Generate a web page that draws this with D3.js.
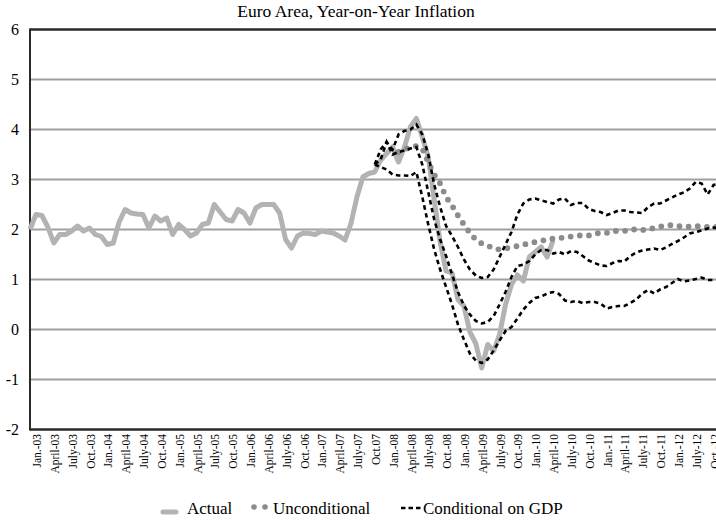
<!DOCTYPE html>
<html>
<head>
<meta charset="utf-8">
<script src="https://cdn.jsdelivr.net/npm/d3@7"></script>
<style>
body { margin: 0; background: #fff; }
svg { display: block; font-family: "Liberation Serif", "DejaVu Serif", serif; }
</style>
</head>
<body>
<svg width="716" height="521"></svg>
<script>
// category labels, one every third month
var monthLabels = ["Jan.-03","April-03","July-03","Oct.-03","Jan.-04","April-04","July-04","Oct.-04",
  "Jan.-05","April-05","July-05","Oct.-05","Jan.-06","April-06","July-06","Oct.-06","Jan.-07","April-07",
  "July-07","Oct.07","Jan.-08","April-08","July-08","Oct.-08","Jan.-09","April-09","July-09","Oct.-09",
  "Jan.-10","April-10","July-10","Oct.-10","Jan.-11","April-11","July-11","Oct.-11","Jan.-12","July-12","Oct.-12"];

var yTicks = [-2, -1, 0, 1, 2, 3, 4, 5, 6];

// monthly, starting Jan-03
var actual = [2.0,2.3,2.28,2.05,1.73,1.9,1.9,1.97,2.07,1.97,
  2.03,1.9,1.86,1.7,1.73,2.15,2.4,2.33,2.31,2.3,
  2.03,2.27,2.17,2.23,1.9,2.1,2.0,1.87,1.93,2.1,
  2.13,2.5,2.35,2.2,2.17,2.4,2.33,2.13,2.43,2.5,
  2.5,2.5,2.33,1.8,1.63,1.87,1.93,1.92,1.9,1.97,
  1.95,1.93,1.87,1.79,2.12,2.65,3.05,3.12,3.15,3.39,
  3.52,3.65,3.35,3.65,4.05,4.22,3.85,3.45,2.6,1.75,
  1.17,1.13,0.6,0.47,-0.05,-0.28,-0.77,-0.3,-0.43,-0.1,
  0.5,0.9,1.09,0.97,1.45,1.55,1.65,1.45,1.78];

var uncondStart = 62;
var unconditional = [3.55,3.6,3.65,3.67,3.62,3.35,3.1,2.92,2.65,2.48,
  2.28,2.1,1.93,1.8,1.72,1.68,1.62,1.6,1.62,1.64,
  1.67,1.7,1.72,1.75,1.78,1.79,1.82,1.83,1.84,1.86,
  1.88,1.88,1.88,1.92,1.93,1.93,1.97,1.97,1.97,2.0,
  2.0,1.99,2.0,2.03,2.06,2.08,2.09,2.07,2.05,2.06,
  2.07,2.06,2.05,2.05,2.05];

var condStart = 58;
var condUpper = [3.3,3.6,3.75,3.6,3.9,3.97,4.0,4.1,3.9,3.5,
  2.9,2.45,2.07,1.87,1.65,1.4,1.2,1.08,1.03,1.05,
  1.2,1.45,1.7,1.95,2.3,2.52,2.6,2.62,2.58,2.55,
  2.52,2.6,2.62,2.49,2.53,2.53,2.41,2.37,2.35,2.29,
  2.33,2.38,2.38,2.35,2.34,2.33,2.45,2.52,2.52,2.58,
  2.64,2.7,2.74,2.82,2.95,2.92,2.7,2.89,2.92];
var condMid = [3.3,3.4,3.75,3.5,3.55,3.58,3.62,3.65,3.3,2.75,
  2.2,1.8,1.47,1.1,0.75,0.48,0.3,0.17,0.12,0.15,
  0.27,0.5,0.75,1.05,1.27,1.3,1.37,1.5,1.59,1.59,
  1.52,1.55,1.5,1.57,1.55,1.47,1.38,1.33,1.28,1.27,
  1.33,1.37,1.36,1.47,1.54,1.58,1.6,1.62,1.59,1.64,
  1.71,1.77,1.84,1.92,1.95,1.98,2.02,2.04,2.02];
var condLower = [3.3,3.25,3.2,3.1,3.08,3.08,3.07,3.15,2.65,2.1,
  1.6,1.2,0.85,0.5,0.1,-0.2,-0.48,-0.62,-0.67,-0.6,
  -0.42,-0.22,-0.03,0.05,0.22,0.4,0.53,0.63,0.66,0.72,
  0.75,0.71,0.58,0.55,0.57,0.53,0.55,0.55,0.52,0.42,
  0.45,0.47,0.47,0.53,0.6,0.72,0.79,0.72,0.8,0.85,
  0.93,1.01,0.96,0.98,1.01,1.04,0.99,0.99,0.99];

var svg = d3.select("svg"),
    step = 5.944,
    nMonths = 117,
    left = 30,
    right = 720;

var x = d3.scaleLinear().domain([0, nMonths - 1]).range([left, left + step * (nMonths - 1)]),
    y = d3.scaleLinear().domain([-2, 6]).range([429.5, 29.5]);

function toPoints(arr, start) {
  return arr.map(function(v, i) { return [start + i, v]; });
}

var line = d3.line()
    .x(function(d) { return x(d[0]); })
    .y(function(d) { return y(d[1]); });

// title
svg.append("text")
    .attr("x", 356).attr("y", 17)
    .attr("text-anchor", "middle")
    .style("font-size", "17.5px")
    .text("Euro Area, Year-on-Year Inflation");

// gridlines
svg.append("g").selectAll("line")
  .data(yTicks.filter(function(d) { return d > -2 && d < 6; }))
  .enter().append("line")
    .attr("x1", left).attr("x2", right)
    .attr("y1", function(d) { return y(d); })
    .attr("y2", function(d) { return y(d); })
    .attr("stroke", "#a0a0a0")
    .attr("stroke-width", 2);

// frame: top, bottom, left
svg.append("line").attr("x1", left).attr("x2", right).attr("y1", y(6)).attr("y2", y(6))
    .attr("stroke", "#2a2a2a").attr("stroke-width", 2.5);
svg.append("line").attr("x1", left).attr("x2", right).attr("y1", y(-2)).attr("y2", y(-2))
    .attr("stroke", "#2a2a2a").attr("stroke-width", 2.5);
svg.append("line").attr("x1", left).attr("x2", left).attr("y1", y(6) - 1).attr("y2", y(-2) + 1)
    .attr("stroke", "#2a2a2a").attr("stroke-width", 2);

// y tick labels
svg.append("g").selectAll("text")
  .data(yTicks)
  .enter().append("text")
    .attr("x", 19)
    .attr("y", function(d) { return y(d); })
    .attr("dy", "0.35em")
    .attr("text-anchor", "end")
    .style("font-size", "16px")
    .text(function(d) { return d; });

// x tick labels
svg.append("g").selectAll("text")
  .data(monthLabels)
  .enter().append("text")
    .attr("transform", function(d, k) { return "translate(" + (x(k * 3) + 7) + ",434) rotate(-90)"; })
    .attr("text-anchor", "end")
    .attr("dy", "0.35em")
    .style("font-size", "11.5px")
    .text(function(d) { return d; });

// series
svg.append("path")
    .datum(toPoints(actual, 0))
    .attr("d", line)
    .attr("fill", "none")
    .attr("stroke", "#b3b3b3")
    .attr("stroke-width", 5)
    .attr("stroke-linejoin", "round");

svg.append("path")
    .datum(toPoints(unconditional, uncondStart))
    .attr("d", line)
    .attr("fill", "none")
    .attr("stroke", "#8c8c8c")
    .attr("stroke-width", 5.8)
    .attr("stroke-linecap", "round")
    .attr("stroke-dasharray", "0 9.2");

[condUpper, condMid, condLower].forEach(function(s) {
  svg.append("path")
      .datum(toPoints(s, condStart))
      .attr("d", line)
      .attr("fill", "none")
      .attr("stroke", "#000")
      .attr("stroke-width", 2.6)
      .attr("stroke-dasharray", "4.5 3.5");
});

// legend
var leg = svg.append("g").style("font-size", "17px");
leg.append("line").attr("x1", 163).attr("x2", 176).attr("y1", 512).attr("y2", 512)
    .attr("stroke", "#b3b3b3").attr("stroke-width", 5).attr("stroke-linecap", "round");
leg.append("text").attr("x", 187).attr("y", 514).text("Actual");
leg.selectAll("circle").data([254, 265]).enter().append("circle")
    .attr("cx", function(d) { return d; }).attr("cy", 507).attr("r", 2.8)
    .attr("fill", "#8c8c8c");
leg.append("text").attr("x", 273).attr("y", 514).text("Unconditional");
leg.append("line").attr("x1", 401).attr("x2", 422).attr("y1", 508).attr("y2", 508)
    .attr("stroke", "#000").attr("stroke-width", 2.6).attr("stroke-dasharray", "4.5 3");
leg.append("text").attr("x", 423).attr("y", 514).text("Conditional on GDP");
</script>
</body>
</html>
